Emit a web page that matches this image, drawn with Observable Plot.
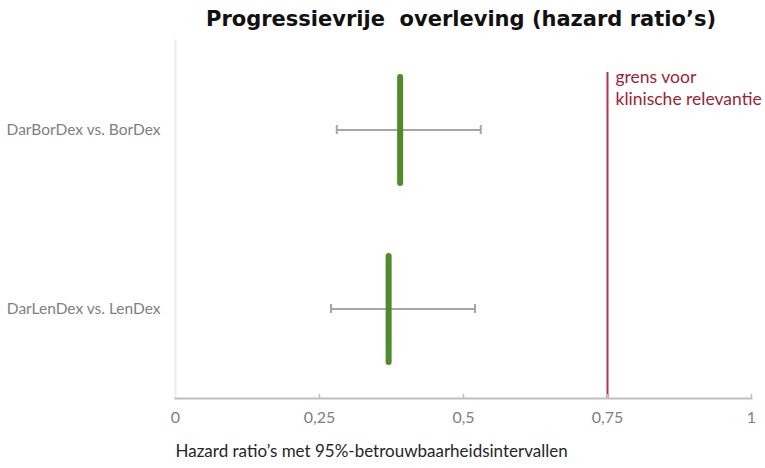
<!DOCTYPE html>
<html>
<head>
<meta charset="utf-8">
<script src="https://cdn.jsdelivr.net/npm/d3@7"></script>
<script src="https://cdn.jsdelivr.net/npm/@observablehq/plot@0.6"></script>
<style>
  body { margin: 0; background: #fff; }
  #title { height: 36px; box-sizing: border-box; padding-top: 6px; padding-left: 157px; width: 765px; text-align: center;
    font-family: "DejaVu Sans", Verdana, sans-serif; font-weight: bold; font-size: 21px; line-height: 26px; color: #111; white-space: pre; }
</style>
</head>
<body>
<div id="title">Progressievrije  overleving (hazard ratio’s)</div>
<div id="chart"></div>
<script>
const categories = ["DarBorDex vs. BorDex", "DarLenDex vs. LenDex"];
const hazardRatio = [0.39, 0.37];
const lowerCI = [0.28, 0.27];
const upperCI = [0.53, 0.52];
const threshold = [0.75];
const thresholdLabel = ["grens voor", "klinische relevantie"];
const xTicks = [0, 0.25, 0.5, 0.75, 1];
const xTickLabels = ["0", "0,25", "0,5", "0,75", "1"];
const xLabel = "Hazard ratio’s met 95%-betrouwbaarheidsintervallen";

const rows = categories.map((c, i) => ({cat: c, hr: hazardRatio[i], lo: lowerCI[i], hi: upperCI[i]}));
const caps = rows.flatMap(d => [{cat: d.cat, x: d.lo}, {cat: d.cat, x: d.hi}]);

const chart = Plot.plot({
  width: 765,
  height: 432,
  marginTop: 4,
  marginBottom: 70,
  marginLeft: 175,
  marginRight: 14,
  style: {fontFamily: "Lato, sans-serif", fontSize: "15.5px", color: "#7f7f7f", background: "#fff"},
  x: {domain: [0, 1], label: null},
  y: {domain: categories, padding: 0, label: null},
  marks: [
    Plot.frame({anchor: "left", stroke: "#ececec", strokeWidth: 2}),
    Plot.ruleX(threshold, {x: d => d, stroke: "#b3344c", strokeWidth: 2, insetTop: 32}),
    Plot.text([thresholdLabel.join("\n")], {frameAnchor: "top-right", x: threshold[0], dx: 8, dy: 26, textAnchor: "start", lineAnchor: "top", lineHeight: 1.3, fill: "#9c2437", fontSize: 17.5}),
    Plot.ruleY(rows, {y: "cat", x1: "lo", x2: "hi", stroke: "#a6a6a6", strokeWidth: 2}),
    Plot.tickX(caps, {x: "x", y: "cat", stroke: "#a6a6a6", strokeWidth: 2, insetTop: 85, insetBottom: 85}),
    Plot.tickX(rows, {x: "hr", y: "cat", stroke: "#4f8a2b", strokeWidth: 6, strokeLinecap: "round", insetTop: 37, insetBottom: 36}),
    Plot.frame({anchor: "bottom", stroke: "#bfbfbf", strokeWidth: 2}),
    Plot.tickX(xTicks.slice(1), {x: d => d, stroke: "#bfbfbf", strokeWidth: 1.5, insetTop: 354}),
    Plot.axisX({ticks: xTicks, tickSize: 0, tickPadding: 13, fontSize: 16, tickFormat: (d) => xTickLabels[xTicks.indexOf(d)], fill: "#7f7f7f"}),
    Plot.axisY({tickSize: 0, tickPadding: 15, fill: "#7f7f7f", label: null}),
    Plot.text([xLabel], {frameAnchor: "bottom-left", dy: 58, textAnchor: "start", fill: "#262626", fontSize: 17})
  ]
});
document.getElementById("chart").appendChild(chart);
</script>
</body>
</html>
